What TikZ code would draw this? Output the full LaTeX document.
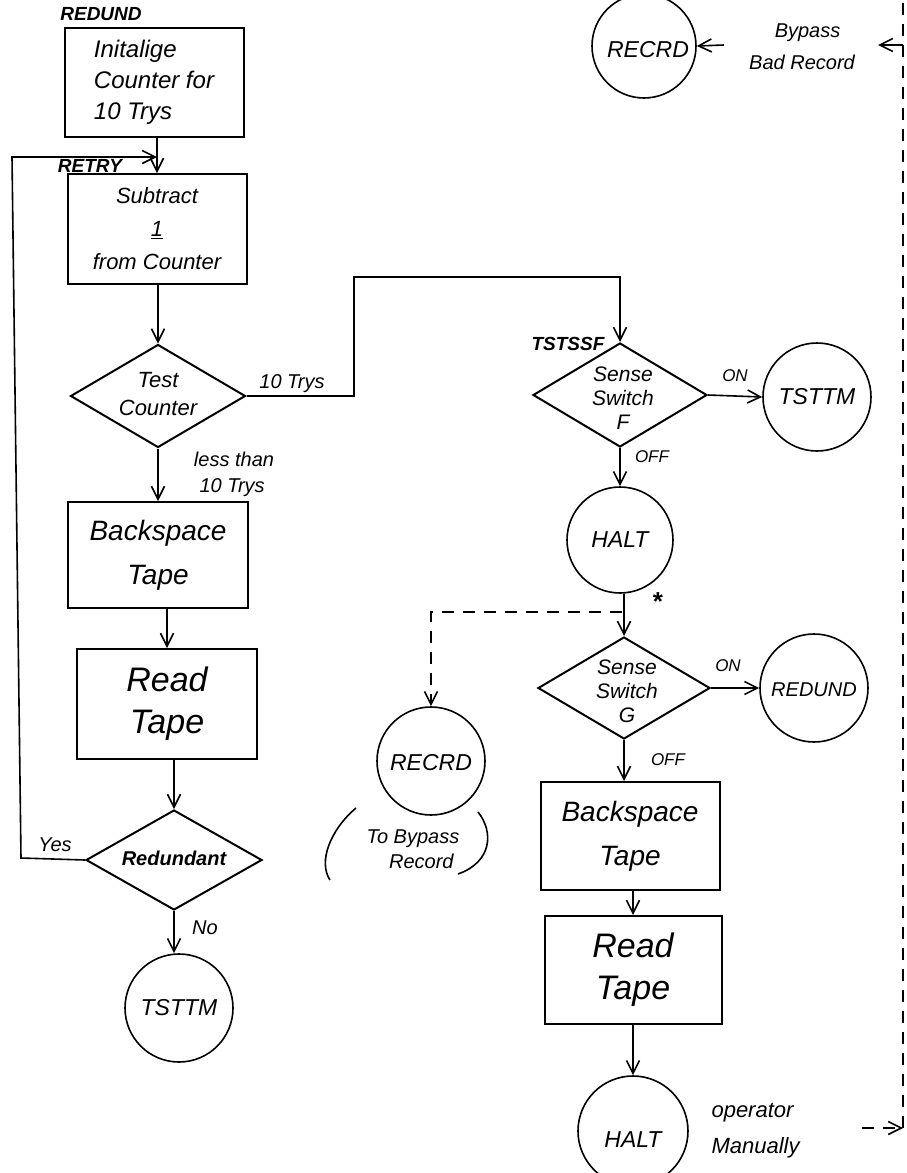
\documentclass[tikz,border=0pt]{standalone}
\usepackage{fontspec}
\setmainfont{Liberation Sans}
\usetikzlibrary{shapes.geometric,arrows.meta}
\begin{document}
\begin{tikzpicture}[x=1pt,y=-1pt,
  arr/.style={-{Straight Barb[length=13pt,width=13pt,line width=1.6pt]}, line width=1.6pt},
  ln/.style={line width=1.6pt},
  dsh/.style={dash pattern=on 12pt off 9pt, line width=1.8pt},
  box/.style={draw, line width=2pt, rectangle, inner sep=2pt, align=center},
  dia/.style={draw, line width=2pt, shape=diamond, inner sep=0pt},
  term/.style={draw, line width=1.6pt, circle, inner sep=0pt, minimum size=108pt},
  ftbox/.style={font=\itshape\fontsize{24}{31}\selectfont},
  ftmid/.style={font=\itshape\fontsize{28}{44}\selectfont},
  ftbig/.style={font=\itshape\fontsize{34}{42}\selectfont},
  ftdia/.style={font=\itshape\fontsize{21}{24}\selectfont, align=center},
  ftcirc/.style={font=\itshape\fontsize{23}{27}\selectfont},
  ftlbl/.style={font=\itshape\fontsize{20}{26}\selectfont, align=left},
  fttag/.style={font=\bfseries\itshape\fontsize{19}{22}\selectfont},
  ftsw/.style={font=\itshape\fontsize{17}{19}\selectfont},
  paren/.style={line width=1.6pt}
]
\useasboundingbox (0,0) rectangle (906,1173);

% ---------- left column ----------
\node[fttag] (tagredund) at (101,14) {REDUND};
\node[box, ftbox, align=left, minimum width=179pt, minimum height=109pt] (b1) at (154,82.5)
  {Initalige\\Counter for\\10 Trys};
\node[fttag] (tagretry) at (90,166) {RETRY};
\node[box, ftbox, font=\itshape\fontsize{22}{33}\selectfont, minimum width=179pt, minimum height=110pt] (b2) at (157,229)
  {Subtract\\\underline{1}\\from Counter};
\node[dia, minimum width=175pt, minimum height=103pt] (d1) at (158,396) {};
\node[ftdia, font=\itshape\fontsize{22}{28}\selectfont] (d1t) at (158,394) {Test\\Counter};
\node[box, ftmid, minimum width=180pt, minimum height=106pt] (b3) at (158,555) {Backspace\\Tape};
\node[box, ftbig, minimum width=180pt, minimum height=110pt] (b4) at (167,704) {Read\\Tape};
\node[dia, minimum width=176pt, minimum height=100pt] (d3) at (174,860) {};
\node[font=\bfseries\itshape\fontsize{20}{24}\selectfont] (d3t) at (174,858) {Redundant};
\node[term] (c1) at (179,1008) {};
\node[ftcirc] (c1t) at (179,1008) {TSTTM};

\node[ftlbl] (l10a) at (292,384) {10 Trys};
\node[ftlbl] (lless) at (234,474) {less than\\\ 10 Trys};
\node[ftlbl] (lyes) at (55,845) {Yes};
\node[ftlbl] (lno) at (205,928) {No};

\coordinate (jn) at (157,157);
\coordinate (lpT) at (12,157);
\coordinate (lpB) at (21,858);
\coordinate (rt1) at (354,396);
\coordinate (rt2) at (354,277);

\draw[arr] (b1.south -| b2.north) -- (b2.north);
\draw[arr] (d3.west) -- (lpB) -- (lpT) -- (jn);
\draw[arr] (b2.south -| d1.north) -- (d1.north);
\draw[arr] (d1.south) -- (b3.north -| d1.south);
\draw[arr] (b3.south -| b4.north) -- (b4.north);
\draw[arr] (b4.south -| d3.north) -- (d3.north);
\draw[arr] (d3.south) -- (c1.north -| d3.south);

% ---------- right column ----------
\node[term, minimum size=104pt] (c7) at (644,46) {};
\node[ftcirc] (c7t) at (648,50) {RECRD};
\node[font=\itshape\fontsize{20}{32}\selectfont, align=center] (byp) at (802,47) {\ \ Bypass\\Bad Record};

\node[fttag] (tagtst) at (568,344) {TSTSSF};
\node[dia, minimum width=174pt, minimum height=104pt] (d2) at (620,395) {};
\node[ftdia] (d2t) at (623,398) {Sense\\Switch\\F};
\node[term] (c2) at (817,397) {};
\node[ftcirc] (c2t) at (817,397) {TSTTM};
\node[ftsw] (lon1) at (735,376) {ON};
\node[ftsw] (loff1) at (652,457) {OFF};
\node[term, minimum size=106pt] (c3) at (620,540) {};
\node[ftcirc] (c3t) at (620,540) {HALT};
\node[font=\bfseries\fontsize{26}{26}\selectfont] (star) at (658,602) {*};

\node[dia, minimum width=172pt, minimum height=102pt] (d4) at (624,688) {};
\node[ftdia] (d4t) at (627,691) {Sense\\Switch\\G};
\node[term] (c4) at (814,688) {};
\node[ftcirc, font=\itshape\fontsize{20}{24}\selectfont] (c4t) at (814,690) {REDUND};
\node[ftsw] (lon2) at (728,666) {ON};
\node[ftsw] (loff2) at (668,760) {OFF};

\node[term] (c5) at (431,761) {};
\node[ftcirc] (c5t) at (431,763) {RECRD};
\node[font=\itshape\fontsize{20}{25}\selectfont, align=center] (c5n) at (413,849)
  {To Bypass\\\ \ \ Record};
\draw[paren] (356,808) .. controls (330,830) and (318,862) .. (330,880);
\draw[paren] (478,812) .. controls (494,832) and (492,862) .. (458,874);

\node[box, ftmid, minimum width=179pt, minimum height=108pt] (b5) at (630,836) {Backspace\\Tape};
\node[box, ftbig, minimum width=177pt, minimum height=108pt] (b6) at (633,970) {Read\\Tape};
\node[term, minimum size=110pt] (c6) at (633,1131) {};
\node[ftcirc] (c6t) at (633,1140) {HALT};
\node[font=\itshape\fontsize{22}{36}\selectfont, align=left, anchor=north west] (opr) at (708,1100)
  {operator\\Manually\\Corrects};

\coordinate (rt3) at (620,277);
\coordinate (jd) at (622,612);
\coordinate (opE) at (862,1128);
\coordinate (rB) at (903,1128);
\coordinate (rT) at (903,0);
\coordinate (rA) at (903,45);
\coordinate (byR) at (878,45);
\coordinate (byL) at (724,45);

\draw[arr] (d1.east) -- (rt1) -- (rt2) -- (rt3) -- (d2.north);
\draw[arr] (d2.east) -- (c2.west);
\draw[arr] (d2.south) -- (c3.north);
\draw[arr] (c3.south -| d4.north) -- (d4.north);
\draw[arr, dsh] (jd) -- (jd -| c5.north) -- (c5.north);
\draw[arr] (d4.east) -- (c4.west);
\draw[arr] (d4.south) -- (b5.north -| d4.south);
\draw[arr] (b5.south -| b6.north) -- (b6.north);
\draw[arr] (b6.south) -- (c6.north);

\draw[arr, dsh] (opE) -- (rB);
\draw[dsh] (rB) -- (rT);
\draw[arr] (rA) -- (byR);
\draw[arr] (byL) -- (c7.east);
\end{tikzpicture}
\end{document}
